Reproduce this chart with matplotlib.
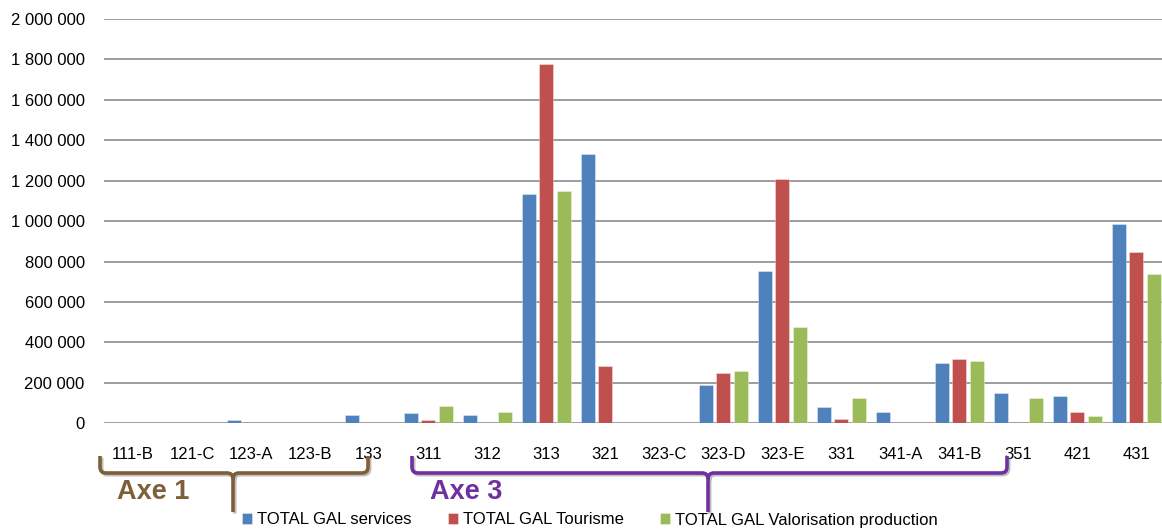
import matplotlib
matplotlib.use("Agg")
import matplotlib.pyplot as plt
import numpy as np
from matplotlib.path import Path
from matplotlib.patches import PathPatch
from matplotlib.ticker import FuncFormatter
import matplotlib.patheffects as pe

categories = ['111-B', '121-C', '123-A', '123-B', '133', '311', '312', '313', '321',
              '323-C', '323-D', '323-E', '331', '341-A', '341-B', '351', '421', '431']
services = [0, 0, 17000, 0, 43000, 52000, 42000, 1134000, 1332000, 0, 191000, 752000,
            81000, 58000, 298000, 151000, 135000, 984000]
tourisme = [0, 0, 0, 0, 0, 16000, 0, 1775000, 285000, 0, 250000, 1207000,
            23000, 0, 318000, 0, 57000, 846000]
valorisation = [0, 0, 0, 0, 0, 85000, 57000, 1149000, 0, 0, 260000, 476000,
                127000, 0, 307000, 124000, 35000, 738000]
series_names = ['TOTAL GAL services', 'TOTAL GAL Tourisme', 'TOTAL GAL Valorisation production']
yticks = [0, 200000, 400000, 600000, 800000, 1000000, 1200000, 1400000, 1600000, 1800000, 2000000]
groups = [('Axe 1', '#7F5F3A'), ('Axe 3', '#7030A0')]

colors = ['#4F81BD', '#C0504D', '#9BBB59']
W, H = 1162, 530
plt.rcParams['font.family'] = ['Liberation Sans', 'DejaVu Sans']

fig = plt.figure(figsize=(W / 100, H / 100), dpi=100)
ax = fig.add_axes([103.5 / W, 1 - 423.3 / H, (1166 - 103.5) / W, (423.3 - 19) / H])

x = np.arange(len(categories))
bw = 0.237
pitch = 0.297
handles = []
for i, (vals, c, name) in enumerate(zip([services, tourisme, valorisation], colors, series_names)):
    b = ax.bar(x + (i - 1) * pitch, vals, width=bw, color=c, edgecolor=(1, 1, 1, 0.5),
               linewidth=0.5, label=name, zorder=3)
    handles.append(b)

ax.set_xlim(-0.5, len(categories) - 0.5)
ax.set_ylim(0, 2000000)
ax.set_yticks(yticks)
ax.yaxis.set_major_formatter(FuncFormatter(lambda v, p: f"{int(v):,}".replace(",", " ")))
ax.set_xticks(x)
ax.set_xticklabels(categories)
ax.grid(axis='y', color='#8c8c8c', linewidth=1.2, zorder=0)
ax.set_axisbelow(True)
for s in ax.spines.values():
    s.set_visible(False)
ax.tick_params(axis='both', length=0, labelsize=12, colors='black')
ax.tick_params(axis='x', pad=17)
ax.tick_params(axis='y', pad=13.5)


def px(xp, yp):
    return (xp / W, 1 - yp / H)


def brace(xl, xr, xc, yt, yh, yb, color, r=6):
    verts = [px(xl, yt), px(xl, yh - r), px(xl, yh), px(xl + r, yh), px(xc - r, yh),
             px(xc, yh), px(xc, yh + r), px(xc, yb),
             px(xr, yt), px(xr, yh - r), px(xr, yh), px(xr - r, yh), px(xc + r, yh),
             px(xc, yh), px(xc, yh + r)]
    codes = [Path.MOVETO, Path.LINETO, Path.CURVE3, Path.CURVE3, Path.LINETO,
             Path.CURVE3, Path.CURVE3, Path.LINETO,
             Path.MOVETO, Path.LINETO, Path.CURVE3, Path.CURVE3, Path.LINETO,
             Path.CURVE3, Path.CURVE3]
    patch = PathPatch(Path(verts, codes), transform=fig.transFigure, facecolor='none',
                      edgecolor=color, linewidth=2.6, capstyle='butt', joinstyle='round',
                      zorder=10)
    patch.set_path_effects([pe.SimpleLineShadow(offset=(1.2, -1.2), shadow_color='gray', alpha=0.5),
                            pe.Normal()])
    fig.add_artist(patch)


brace(100, 368, 233, 456, 473, 512, groups[0][1])
brace(412, 1007, 708, 456, 473, 512, groups[1][1])
fig.text(117 / W, 1 - 492 / H, groups[0][0], color=groups[0][1], fontsize=19.5,
         fontweight='bold', va='center', ha='left')
fig.text(430 / W, 1 - 492 / H, groups[1][0], color=groups[1][1], fontsize=19.5,
         fontweight='bold', va='center', ha='left')

fig.legend(handles=handles, loc='center', bbox_to_anchor=(590 / W, 1 - 520 / H), ncol=3,
           frameon=False, fontsize=12, handlelength=0.6, handleheight=0.6,
           handletextpad=0.3, columnspacing=2.2, borderpad=0, borderaxespad=0)

fig.savefig('out.png', dpi=100)
